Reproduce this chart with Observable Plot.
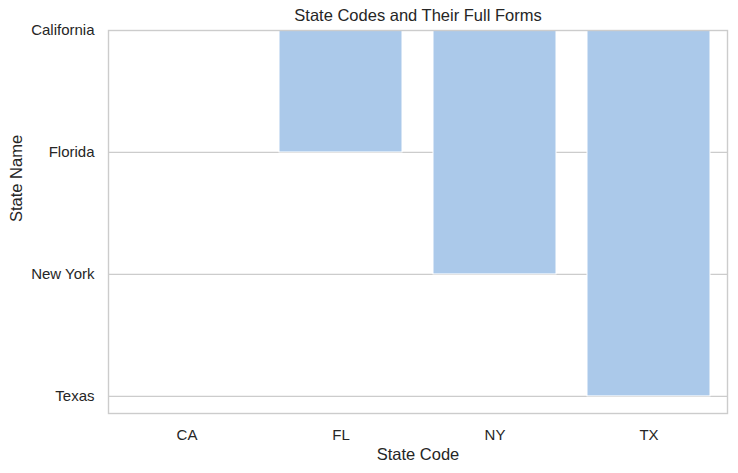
<!DOCTYPE html>
<html>
<head>
<meta charset="utf-8">
<script src="https://cdn.jsdelivr.net/npm/d3@7"></script>
<script src="https://cdn.jsdelivr.net/npm/@observablehq/plot@0.6"></script>
<style>
  body { margin: 0; background: #fff; }
  #chart svg { display: block; }
</style>
</head>
<body>
<div id="chart"></div>
<script>
const stateCodes = ["CA", "FL", "NY", "TX"];
const stateNames = ["California", "Florida", "New York", "Texas"];
const titleText = "State Codes and Their Full Forms";
const xLabel = "State Code";
const yLabel = "State Name";

const data = stateCodes.map((c, i) => ({code: c, name: stateNames[i], idx: stateNames.indexOf(stateNames[i])}));

const textColor = "#262626";
const chart = Plot.plot({
  width: 738,
  height: 473,
  marginLeft: 108,
  marginRight: 11,
  marginTop: 30,
  marginBottom: 60,
  style: {fontFamily: "'Liberation Sans', Arial, sans-serif", fontSize: "15px", color: textColor, background: "#fff"},
  x: {type: "band", domain: stateCodes, paddingInner: 0.2, paddingOuter: 0.1, align: 0.5},
  y: {type: "linear", domain: [0, 3.14], reverse: true},
  marks: [
    Plot.gridY([0, 1, 2, 3], {stroke: "#cccccc", strokeOpacity: 1, strokeWidth: 1.2}),
    Plot.barY(data, {x: "code", y1: () => 0, y2: "idx", fill: "#abc9ea", stroke: "#ffffff", strokeWidth: 1, inset: 0}),
    Plot.axisX({tickSize: 0, tickPadding: 16, fontSize: 15, label: null, color: textColor}),
    Plot.axisY([0, 1, 2, 3], {tickSize: 0, tickPadding: 14, fontSize: 15, tickFormat: i => stateNames[i], label: null, color: textColor}),
    Plot.frame({stroke: "#cccccc", strokeWidth: 1.4}),
    Plot.text([titleText], {frameAnchor: "top", lineAnchor: "middle", dy: -15, fontSize: 16.5, fill: textColor}),
    Plot.text([xLabel], {frameAnchor: "bottom", lineAnchor: "middle", dy: 41, fontSize: 16.5, fill: textColor}),
    Plot.text([yLabel], {frameAnchor: "left", lineAnchor: "middle", dx: -92, rotate: -90, fontSize: 16.5, fill: textColor})
  ]
});
document.getElementById("chart").append(chart);
</script>
</body>
</html>
